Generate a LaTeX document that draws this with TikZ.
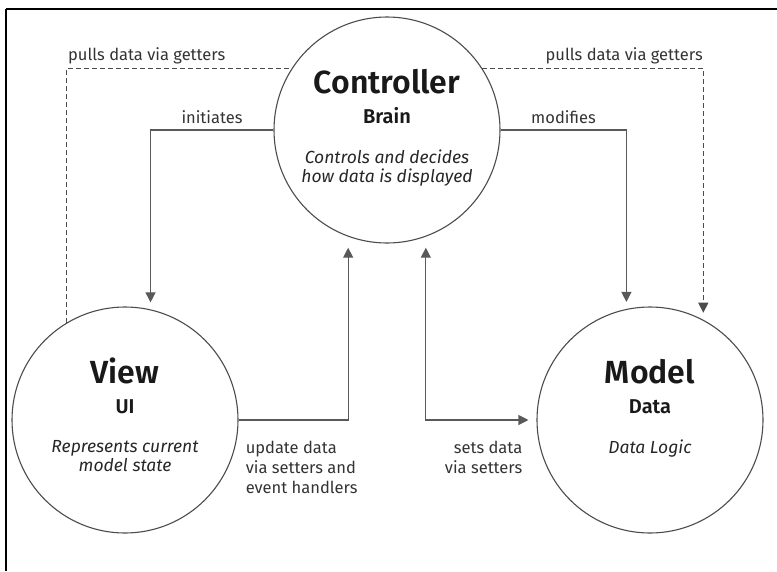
\documentclass[tikz,border=0pt]{standalone}
\usepackage{fontspec}
\setmainfont{Fira Sans}[BoldFont={Fira Sans SemiBold}]
\usetikzlibrary{calc,positioning,arrows.meta}

\begin{document}
\begin{tikzpicture}[x=1pt, y=-1pt,
  blob/.style={draw=black!70, line width=1.1pt, circle, minimum size=226pt, inner sep=0pt},
  head/.style={font=\fontsize{32}{36}\selectfont\bfseries, text=black!90, anchor=base, inner sep=0pt},
  role/.style={font=\fontsize{20}{22}\selectfont\bfseries, text=black!90, anchor=base, inner sep=0pt},
  desc/.style={font=\fontsize{17.5}{19}\selectfont\itshape, text=black!85, align=center, anchor=north, inner sep=0pt},
  lbl/.style={font=\fontsize{16.5}{20}\selectfont, text=black!80, inner sep=0pt},
  link/.style={draw=black!65, line width=1.2pt, -{Triangle[length=10pt,width=10pt]}, shorten >=7pt},
  pull/.style={draw=black!70, line width=1.2pt, dash pattern=on 5pt off 3pt}]
\useasboundingbox (0,0) rectangle (777,571);

% frame
\draw[line width=2.5pt] (6,9) -- (777,9);
\draw[line width=1.5pt] (6,9) -- (6,571);

\foreach \n/\x/\y in {ctrl/387/130, view/125/420, model/650/420}{
  \node[blob] (\n) at (\x,\y) {};
}
\foreach \n/\hd/\rl/\txt in {ctrl/Controller/Brain/{Controls and decides\\how data is displayed},
  view/View/UI/{Represents current\\model state}, model/Model/Data/{Data Logic}}{
  \node[head] (\n-h) at ($(\n)+(0,-37)$) {\hd};
  \node[role] (\n-r) at ($(\n)+(0,-7)$) {\rl};
  \node[desc] (\n-d) at ($(\n)+(0,20)$) {\txt};
}

\draw[link] (ctrl.west) -| node[lbl, above=6pt, pos=0.25] {initiates} (view.77);
\draw[link] (ctrl.east) -| node[lbl, above=6pt, pos=0.25] {modifies} (model.102);
\draw[pull] (view.121) |- node[lbl, pos=0.5, above right=4pt and 1pt] {pulls data via getters} (ctrl.147);
\draw[pull, -{Triangle[length=10pt,width=10pt]}, shorten >=7pt] (ctrl.33) -| node[lbl, pos=0.5, above left=4pt and 0pt] {pulls data via getters} (model.62);
\draw[link, shorten >=11pt] (view.east) -| (ctrl.250);
\draw[link, {Triangle[length=10pt,width=10pt]}-{Triangle[length=10pt,width=10pt]}, shorten <=11pt, shorten >=8pt] (ctrl.290) |- (model.west);

\node[lbl, align=left, anchor=north west] (updlbl) at ($(view.east)+(7,21)$) {update data\\via setters and\\event handlers};
\node[lbl, align=right, anchor=north east] (setlbl) at ($(model.west)+(-14,21)$) {sets data\\via setters};

\end{tikzpicture}
\end{document}
